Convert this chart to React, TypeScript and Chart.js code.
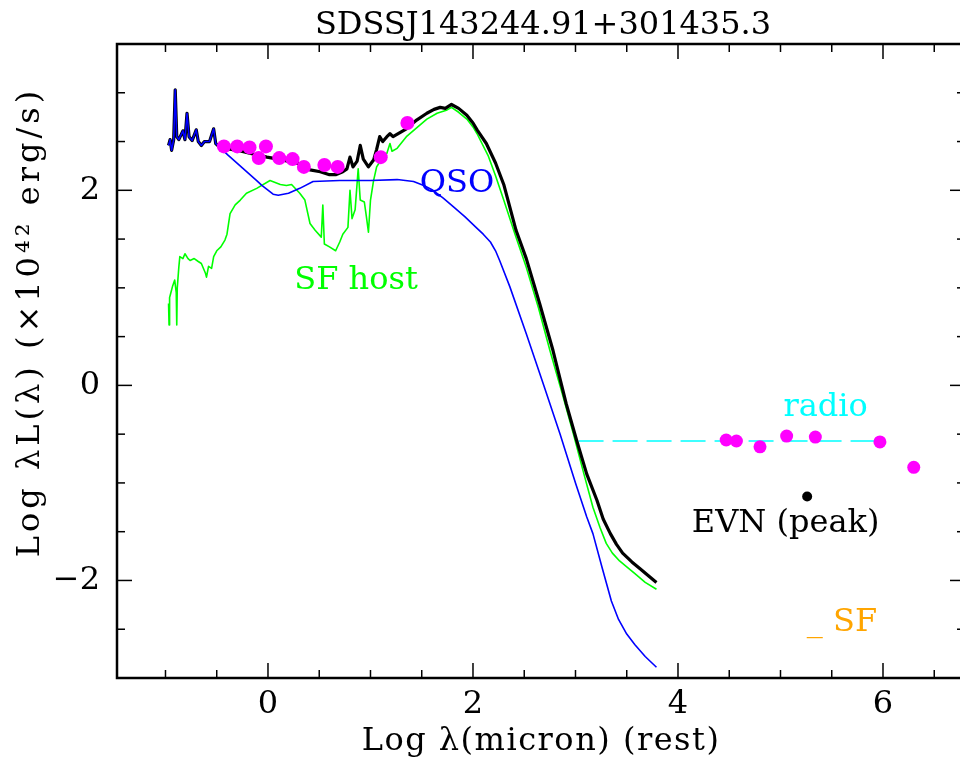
import React, { useEffect, useRef } from "react";
import { Chart, registerables } from "chart.js";

Chart.register(...registerables);

// ---------- text ----------
const TITLE = "SDSSJ143244.91+301435.3";
const X_TITLE = "Log λ(micron) (rest)";
const Y_TITLE = "Log λL(λ) (×10⁴² erg/s)";

// ---------- tick labels ----------
const xLabelTicks = [0, 2, 4, 6];
const yLabelTicks = [-2, 0, 2];

// ---------- series (log λ [micron], log λL [1e42 erg/s]) ----------
const qsoModel: [number, number][] = [
  [-0.97, 2.46], [-0.955, 2.52], [-0.94, 2.41], [-0.92, 2.52], [-0.905, 3.03], [-0.89, 2.55],
  [-0.87, 2.52], [-0.83, 2.61], [-0.81, 2.52], [-0.79, 2.79], [-0.77, 2.55], [-0.74, 2.51],
  [-0.70, 2.62], [-0.68, 2.50], [-0.65, 2.46], [-0.62, 2.50], [-0.57, 2.50], [-0.53, 2.63],
  [-0.51, 2.48], [-0.47, 2.44], [-0.39, 2.36], [-0.25, 2.23], [-0.11, 2.10], [-0.06, 2.05],
  [0.05, 1.96], [0.10, 1.95], [0.20, 1.97], [0.31, 2.02], [0.44, 2.09], [0.70, 2.10],
  [1.00, 2.10], [1.26, 2.11], [1.42, 2.09], [1.52, 2.05], [1.61, 2.00], [1.71, 1.92],
  [1.81, 1.83], [1.92, 1.73], [2.04, 1.61], [2.10, 1.55], [2.17, 1.47], [2.22, 1.38],
  [2.26, 1.28], [2.36, 1.01], [2.52, 0.53], [2.70, -0.03], [2.85, -0.50], [3.00, -1.00],
  [3.11, -1.35], [3.17, -1.52], [3.26, -1.87], [3.35, -2.21], [3.42, -2.40], [3.50, -2.55],
  [3.58, -2.66], [3.68, -2.78], [3.79, -2.89],
];

const totalModel: [number, number][] = [
  [-0.97, 2.46], [-0.955, 2.52], [-0.94, 2.41], [-0.92, 2.52], [-0.905, 3.03], [-0.89, 2.55],
  [-0.87, 2.52], [-0.83, 2.61], [-0.81, 2.52], [-0.79, 2.79], [-0.77, 2.55], [-0.74, 2.51],
  [-0.70, 2.62], [-0.68, 2.50], [-0.65, 2.46], [-0.62, 2.50], [-0.57, 2.50], [-0.53, 2.63],
  [-0.51, 2.48], [-0.47, 2.44], [-0.30, 2.41], [-0.18, 2.38], [-0.01, 2.34], [0.15, 2.31],
  [0.31, 2.27], [0.41, 2.21], [0.51, 2.19], [0.60, 2.16], [0.66, 2.16], [0.73, 2.19],
  [0.77, 2.22], [0.80, 2.34], [0.83, 2.24], [0.87, 2.30], [0.90, 2.46], [0.93, 2.32],
  [0.98, 2.24], [1.03, 2.31], [1.06, 2.42], [1.09, 2.55], [1.12, 2.50], [1.16, 2.55],
  [1.19, 2.58], [1.22, 2.55], [1.35, 2.63], [1.45, 2.72], [1.55, 2.79], [1.62, 2.83],
  [1.68, 2.85], [1.73, 2.84], [1.79, 2.88], [1.86, 2.84], [1.94, 2.77], [2.00, 2.69],
  [2.04, 2.62], [2.13, 2.48], [2.22, 2.28], [2.30, 2.06], [2.42, 1.59], [2.52, 1.30],
  [2.65, 0.84], [2.78, 0.36], [2.91, -0.19], [3.01, -0.56], [3.11, -0.91], [3.21, -1.18],
  [3.27, -1.37], [3.34, -1.52], [3.40, -1.63], [3.46, -1.72], [3.55, -1.81], [3.63, -1.88],
  [3.72, -1.96], [3.79, -2.02],
];

const hostModel: [number, number][] = [
  [-0.97, 0.84], [-0.965, 0.62], [-0.96, 0.90], [-0.95, 0.94], [-0.93, 1.02], [-0.91, 1.08],
  [-0.895, 0.95], [-0.89, 0.62], [-0.885, 1.00], [-0.87, 1.21], [-0.86, 1.32], [-0.83, 1.30],
  [-0.81, 1.35], [-0.78, 1.30], [-0.76, 1.28], [-0.72, 1.30], [-0.68, 1.27], [-0.65, 1.25],
  [-0.61, 1.15], [-0.60, 1.11], [-0.58, 1.22], [-0.55, 1.20], [-0.53, 1.32], [-0.50, 1.38],
  [-0.46, 1.42], [-0.42, 1.49], [-0.40, 1.55], [-0.37, 1.76], [-0.32, 1.85], [-0.27, 1.90],
  [-0.21, 1.97], [-0.11, 2.02], [0.02, 2.10], [0.07, 2.08], [0.12, 2.06], [0.18, 2.05],
  [0.23, 2.06], [0.31, 1.97], [0.36, 1.90], [0.41, 1.66], [0.46, 1.59], [0.52, 1.52],
  [0.535, 1.85], [0.55, 1.45], [0.60, 1.42], [0.66, 1.38], [0.70, 1.47], [0.73, 1.55],
  [0.78, 1.62], [0.80, 2.00], [0.82, 1.71], [0.85, 1.80], [0.88, 2.22], [0.90, 1.90],
  [0.94, 1.88], [0.96, 1.73], [0.98, 1.57], [1.00, 1.90], [1.03, 2.10], [1.06, 2.24],
  [1.09, 2.29], [1.16, 2.38], [1.19, 2.48], [1.21, 2.40], [1.26, 2.43], [1.35, 2.55],
  [1.45, 2.64], [1.55, 2.73], [1.65, 2.79], [1.74, 2.82], [1.79, 2.85], [1.86, 2.80],
  [1.94, 2.73], [2.00, 2.65], [2.04, 2.58], [2.15, 2.35], [2.22, 2.15], [2.30, 1.90],
  [2.41, 1.55], [2.52, 1.21], [2.64, 0.79], [2.75, 0.36], [2.87, -0.08], [2.98, -0.50],
  [3.08, -0.90], [3.17, -1.25], [3.24, -1.46], [3.30, -1.62], [3.36, -1.72], [3.43, -1.80],
  [3.50, -1.86], [3.58, -1.93], [3.68, -2.02], [3.79, -2.09],
];

const radioFit: [number, number][] = [
  [3.03, -0.57], [6.0, -0.57],
];

const photometry: [number, number][] = [
  [-0.43, 2.45], [-0.30, 2.45], [-0.18, 2.44], [-0.02, 2.45], [-0.09, 2.33], [0.11, 2.33],
  [0.24, 2.32], [0.35, 2.24], [0.55, 2.26], [0.68, 2.24], [1.10, 2.34], [1.36, 2.69],
];

const radioPhotometry: [number, number][] = [
  [4.47, -0.56], [4.57, -0.57], [4.80, -0.63], [5.06, -0.52], [5.34, -0.53], [5.97, -0.58],
  [6.30, -0.84],
];

const evnPeak: [number, number][] = [[5.26, -1.14]];

// ---------- annotations (text, colour, anchor in data units: centre x, baseline y) ----------
const annotations = [
  { text: "QSO", color: "#0000ff", x: 1.844, y: 1.979 },
  { text: "SF host", color: "#00ff00", x: 0.859, y: 0.985 },
  { text: "radio", color: "#00ffff", x: 5.44, y: -0.318 },
  { text: "EVN (peak)", color: "#000000", x: 5.05, y: -1.508 },
  { text: "_ SF", color: "#ffa500", x: 5.6, y: -2.523 },
];

const X_MIN = -1.473;
const X_MAX = 6.8;
const Y_MIN = -3.0;
const Y_MAX = 3.5;

const FONT = "'DejaVu Serif', serif";
const FONT_SIZE = 32;

const toXY = (arr: [number, number][]) => arr.map(([x, y]) => ({ x, y }));

const framePlugin = {
  id: "pgplotFrame",
  afterDraw(chart: any) {
    const { ctx, chartArea, scales } = chart;
    const { left, right, top, bottom } = chartArea;
    const xs = scales.x;
    const ys = scales.y;
    ctx.save();
    ctx.strokeStyle = "#000";
    ctx.lineWidth = 2.5;
    ctx.strokeRect(left, top, right - left, bottom - top);

    ctx.lineWidth = 1.5;
    const seg = (x1: number, y1: number, x2: number, y2: number) => {
      ctx.beginPath();
      ctx.moveTo(x1, y1);
      ctx.lineTo(x2, y2);
      ctx.stroke();
    };
    for (let i = Math.ceil(xs.min * 2); i <= Math.floor(xs.max * 2); i++) {
      const v = i / 2;
      const px = xs.getPixelForValue(v);
      const len = i % 4 === 0 ? 15 : 8;
      seg(px, bottom, px, bottom - len);
      seg(px, top, px, top + len);
    }
    for (let i = Math.ceil(ys.min * 2); i <= Math.floor(ys.max * 2); i++) {
      const v = i / 2;
      const py = ys.getPixelForValue(v);
      const len = i % 4 === 0 ? 15 : 8;
      seg(left, py, left + len, py);
      seg(right, py, right - len, py);
    }

    ctx.font = `${FONT_SIZE}px ${FONT}`;
    ctx.textBaseline = "alphabetic";
    ctx.textAlign = "center";

    for (const a of annotations) {
      ctx.fillStyle = a.color;
      ctx.fillText(a.text, xs.getPixelForValue(a.x), ys.getPixelForValue(a.y));
    }

    ctx.fillStyle = "#000";
    ctx.fillText(TITLE, (left + right) / 2 + 2, 34);

    const c: any = ctx;
    if ("letterSpacing" in c) c.letterSpacing = "1.5px";
    ctx.fillText(X_TITLE, (left + right) / 2, 750);

    ctx.save();
    if ("letterSpacing" in c) c.letterSpacing = "4px";
    ctx.translate(39, 322);
    ctx.rotate(-Math.PI / 2);
    ctx.fillText(Y_TITLE, 0, 0);
    ctx.restore();
    if ("letterSpacing" in c) c.letterSpacing = "0px";

    ctx.restore();
  },
};

export default function App() {
  const ref = useRef<HTMLCanvasElement | null>(null);

  useEffect(() => {
    document.body.style.margin = "0";
    const canvas = ref.current;
    if (!canvas) return;
    const line = (data: [number, number][], color: string, width: number, dash: number[] = []) => ({
      data: toXY(data),
      showLine: true,
      borderColor: color,
      backgroundColor: color,
      borderWidth: width,
      borderDash: dash,
      pointRadius: 0,
      pointHoverRadius: 0,
      tension: 0,
      borderJoinStyle: "round" as const,
    });
    const dots = (data: [number, number][], color: string, r: number) => ({
      data: toXY(data),
      showLine: false,
      pointRadius: r,
      pointHoverRadius: r,
      pointBorderWidth: 0,
      borderColor: color,
      backgroundColor: color,
      pointBackgroundColor: color,
    });

    const chart = new Chart(canvas, {
      type: "scatter",
      data: {
        datasets: [
          dots(photometry, "#ff00ff", 7),
          dots(radioPhotometry, "#ff00ff", 6.5),
          dots(evnPeak, "#000000", 5),
          line(qsoModel, "#0000ff", 1.6),
          line(totalModel, "#000000", 3.2),
          line(hostModel, "#00ff00", 1.6),
          line(radioFit, "#00ffff", 1.6, [25, 9]),
        ] as any,
      },
      options: {
        responsive: false,
        animation: false,
        devicePixelRatio: 1,
        layout: { padding: { top: 44, right: 10, bottom: 0, left: 0 } },
        plugins: {
          legend: { display: false },
          tooltip: { enabled: false },
          title: { display: false },
        },
        events: [],
        scales: {
          x: {
            type: "linear",
            position: "bottom",
            min: X_MIN,
            max: X_MAX,
            grid: { display: false, drawTicks: false },
            border: { display: false },
            ticks: {
              color: "#000",
              padding: 11,
              maxRotation: 0,
              font: { family: FONT, size: FONT_SIZE, lineHeight: 1 },
              callback: (v: any) => (Number(v) < 0 ? "−" + Math.abs(Number(v)) : String(v)),
            },
            afterBuildTicks: (s: any) => {
              s.ticks = xLabelTicks.map((value) => ({ value }));
            },
            afterFit: (s: any) => {
              s.height = 79;
            },
          },
          y: {
            type: "linear",
            min: Y_MIN,
            max: Y_MAX,
            grid: { display: false, drawTicks: false },
            border: { display: false },
            ticks: {
              color: "#000",
              padding: 17,
              font: { family: FONT, size: FONT_SIZE, lineHeight: 1 },
              callback: (v: any) => (Number(v) < 0 ? "−" + Math.abs(Number(v)) : String(v)),
            },
            afterBuildTicks: (s: any) => {
              s.ticks = yLabelTicks.map((value) => ({ value }));
            },
            afterFit: (s: any) => {
              s.width = 117;
            },
          },
        },
      },
      plugins: [framePlugin],
    });
    return () => chart.destroy();
  }, []);

  return (
    <div style={{ position: "fixed", left: 0, top: 0, width: 960, height: 757, overflow: "hidden", background: "#fff" }}>
      <canvas ref={ref} width={975} height={757} style={{ display: "block", width: 975, height: 757 }} />
    </div>
  );
}
